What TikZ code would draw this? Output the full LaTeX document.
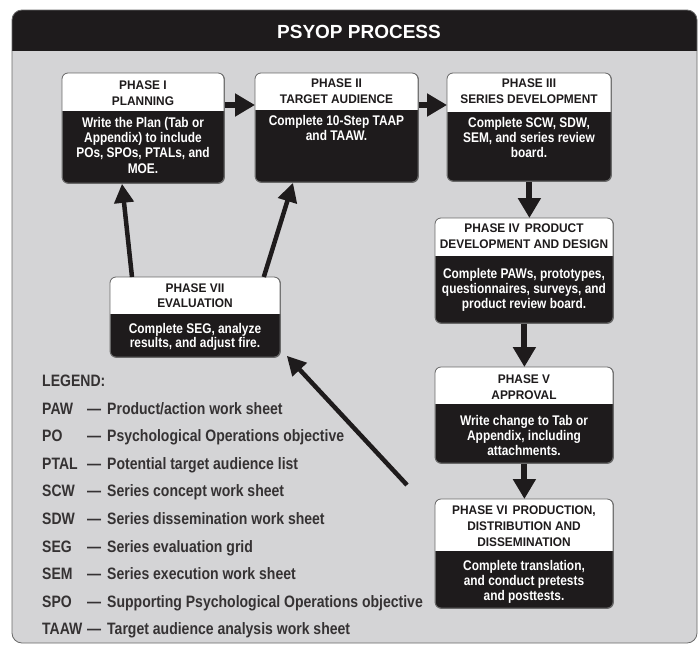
\documentclass[tikz,border=0pt]{standalone}
\usepackage{fontspec}
\setmainfont{Liberation Sans}[FakeStretch=0.85]
\newfontfamily\widefont{Liberation Sans}
\newfontfamily\headfont{Liberation Sans}[FakeStretch=0.95]
\usetikzlibrary{arrows.meta}
\definecolor{bggray}{RGB}{212,212,214}
\definecolor{ink}{RGB}{30,27,28}
\definecolor{edgegray}{RGB}{105,105,105}
\tikzset{
  boxbody/.style={fill=ink, draw=edgegray, line width=0.8pt, rounded corners=6pt, inner sep=0pt, anchor=north west},
  headtext/.style={anchor=north, align=center, text=ink, inner sep=0pt, font=\headfont\bfseries\fontsize{12.5}{16}\selectfont},
  bodytext/.style={anchor=north, align=center, text=white, inner sep=0pt, font=\bfseries\fontsize{14}{15.3}\selectfont},
  flowarrow/.style={draw=ink, line width=6pt, -{Triangle[length=20pt,width=22pt]}},
  backarrow/.style={draw=ink, line width=4.5pt, -{Triangle[length=19pt,width=19pt]}},
  legabbr/.style={anchor=base west, inner sep=0pt, text=ink!90, font=\bfseries\fontsize{16.5}{18}\selectfont},
}
\newcommand\phasebox[6]{%
  \node[boxbody, minimum width={#4-#2}, minimum height={#5-#3}] (#1) at (#2,#3) {};
  \begin{scope}
    \clip (#2-1,#3-1) rectangle (#4+1,#6);
    \fill[white, rounded corners=6pt] (#2,#3) rectangle (#4,#5);
  \end{scope}
  \draw[edgegray, line width=0.8pt, rounded corners=6pt] (#2,#3) rectangle (#4,#5);
}
\begin{document}
\begin{tikzpicture}[x=1pt,y=-1pt]
\useasboundingbox (0,0) rectangle (698,645);
\fill[white] (0,0) rectangle (698,645);
% frame
\fill[bggray, rounded corners=10pt] (12,10) rectangle (697,643);
\begin{scope}
  \clip (10,8) rectangle (699,50);
  \fill[ink, rounded corners=10pt] (12,10) rectangle (697,643);
\end{scope}
\draw[edgegray, line width=0.8pt, rounded corners=10pt] (12,10) rectangle (697,643);
\node[anchor=base, text=white, inner sep=0pt, font=\widefont\bfseries\fontsize{19}{22}\selectfont] (title) at (359,38) {PSYOP PROCESS};

% boxes
\phasebox{p1}{62}{73}{224}{183}{110}
\phasebox{p2}{255}{73}{418}{182}{109}
\phasebox{p3}{447}{73}{611}{181}{111}
\phasebox{p4}{435}{218}{613}{323}{255}
\phasebox{p5}{435}{367}{613}{463}{403}
\phasebox{p6}{435}{499}{613}{608}{550}
\phasebox{p7}{110}{277}{280}{357}{313}

\node[headtext] (h1) at (143,80.5) {PHASE I\\PLANNING};
\node[bodytext] (b1) at (143,117) {Write the Plan (Tab or\\Appendix) to include\\POs, SPOs, PTALs, and\\MOE.};
\node[headtext] (h2) at (336.5,78.5) {PHASE II\\TARGET AUDIENCE};
\node[bodytext] (b2) at (336.5,115) {Complete 10-Step TAAP\\and TAAW.};
\node[headtext] (h3) at (529,78.5) {PHASE III\\SERIES DEVELOPMENT};
\node[bodytext] (b3) at (529,117) {Complete SCW, SDW,\\SEM, and series review\\board.};
\node[headtext] (h4) at (524,223.5) {PHASE IV\hspace{5pt}PRODUCT\\DEVELOPMENT AND DESIGN};
\node[bodytext] (b4) at (524,268) {Complete PAWs, prototypes,\\questionnaires, surveys, and\\product review board.};
\node[headtext] (h5) at (524,374.5) {PHASE V\\APPROVAL};
\node[bodytext] (b5) at (524,415) {Write change to Tab or\\Appendix, including\\attachments.};
\node[headtext] (h6) at (524,505.5) {PHASE VI\hspace{5pt}PRODUCTION,\\DISTRIBUTION AND\\DISSEMINATION};
\node[bodytext] (b6) at (524,560) {Complete translation,\\and conduct pretests\\and posttests.};
\node[headtext, font=\headfont\bfseries\fontsize{12.5}{15}\selectfont] (h7) at (195,283.5) {PHASE VII\\EVALUATION};
\node[bodytext, font=\bfseries\fontsize{14}{14.5}\selectfont] (b7) at (195,323) {Complete SEG, analyze\\results, and adjust fire.};

% connectors
\draw[flowarrow] ([yshift=-32pt]p1.north east) -- ([yshift=-32pt]p2.north west);
\draw[flowarrow] ([yshift=-32pt]p2.north east) -- ([yshift=-32pt]p3.north west);
\draw[flowarrow] (p3.south) -- (p3.south |- p4.north);
\draw[flowarrow] (p4.south) -- (p5.north);
\draw[flowarrow] (p5.south) -- (p6.north);
\draw[backarrow] ([xshift=22pt]p7.north west) -- ([xshift=60pt]p1.south west);
\draw[backarrow] ([xshift=-17pt]p7.north east) -- ([xshift=38pt]p2.south west);
\draw[backarrow] ([xshift=-28pt,yshift=14pt]p6.north west) -- ([xshift=6pt,yshift=2pt]p7.south east);

% legend
\node[legabbr] (leg) at (42,386.5) {LEGEND:};
\foreach \ab/\de [count=\i from 0] in {PAW/{Product/action work sheet}, PO/{Psychological Operations objective}, PTAL/{Potential target audience list}, SCW/{Series concept work sheet}, SDW/{Series dissemination work sheet}, SEG/{Series evaluation grid}, SEM/{Series execution work sheet}, SPO/{Supporting Psychological Operations objective}, TAAW/{Target audience analysis work sheet}}{
  \node[legabbr] (la\i) at (42,{414+27.6*\i}) {\ab};
  \node[legabbr] (ldash\i) at (87,{414+27.6*\i}) {—};
  \node[legabbr] (ld\i) at (107,{414+27.6*\i}) {\de};
}
\end{tikzpicture}
\end{document}
